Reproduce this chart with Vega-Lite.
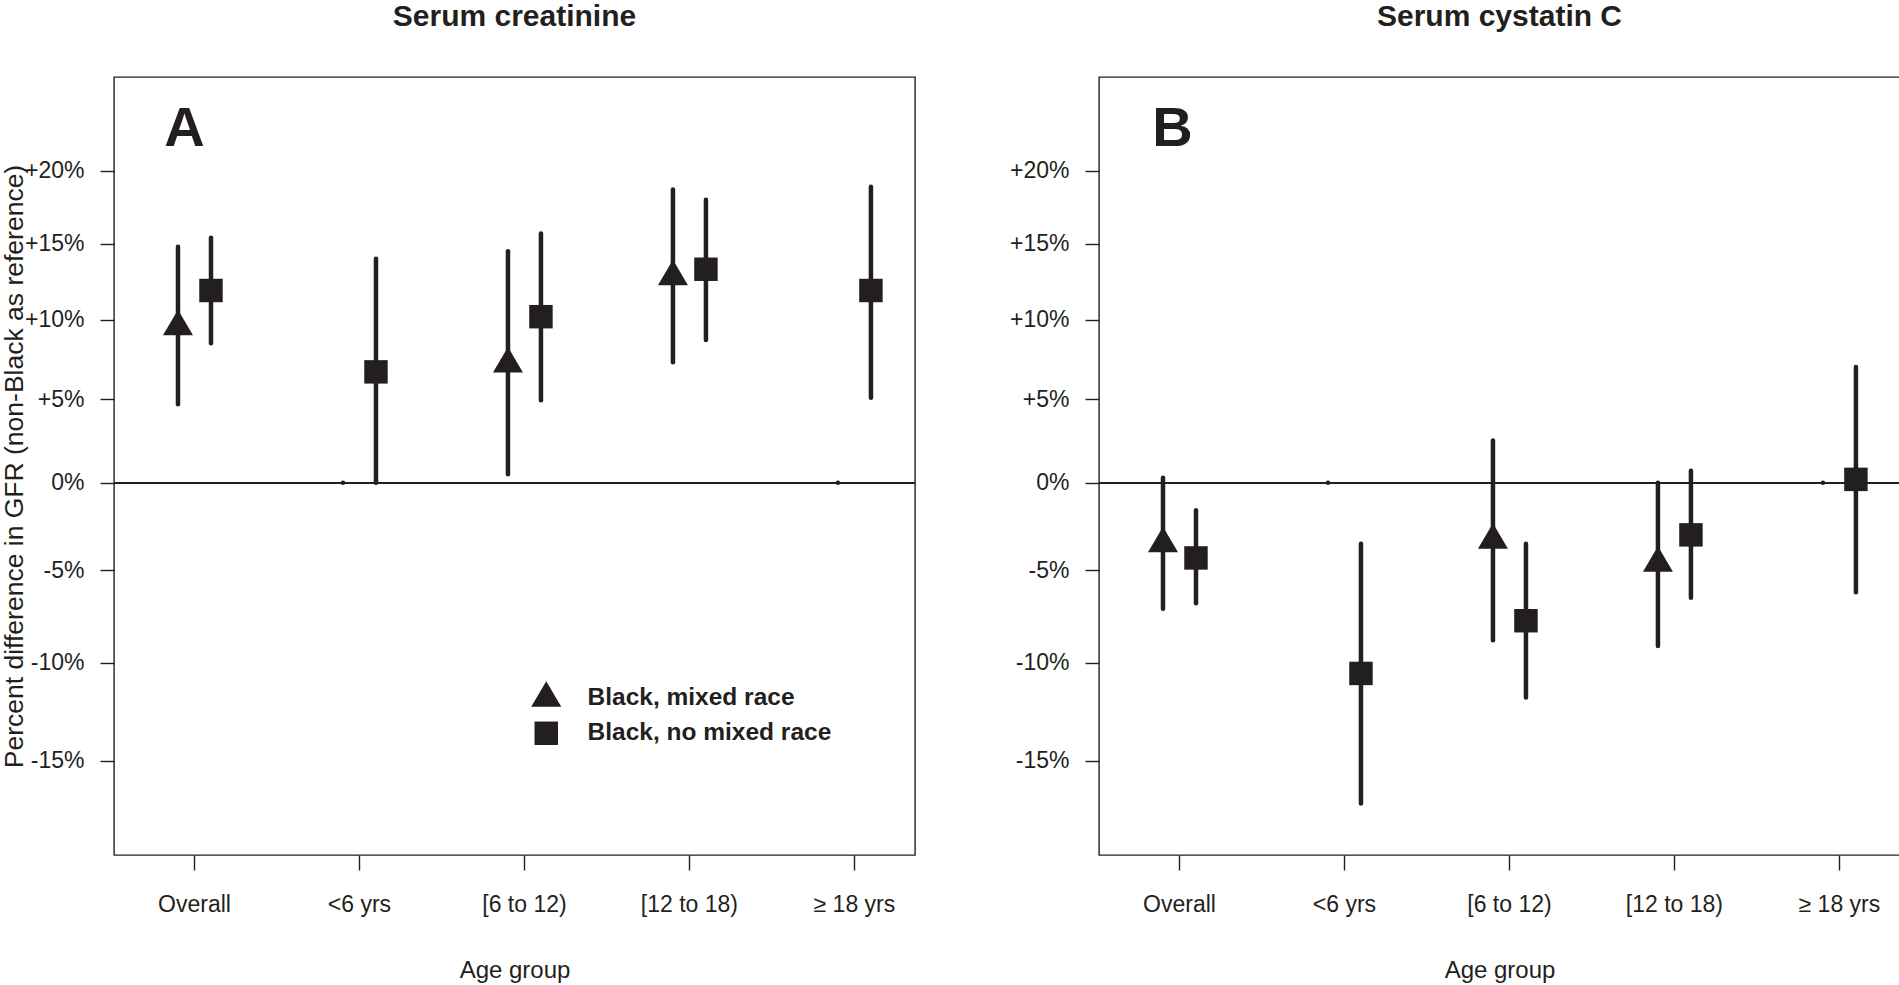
{
  "$schema": "https://vega.github.io/schema/vega-lite/v6.json",
  "padding": {"left": 0, "top": 1, "right": 0, "bottom": 0},
  "background": "white",
  "config": {
    "font": "Liberation Sans",
    "view": {"stroke": "#231f20", "strokeWidth": 1.4},
    "axis": {
      "labelFont": "Liberation Sans", "labelFontSize": 23, "labelColor": "#231f20",
      "tickColor": "#231f20", "tickWidth": 1.4, "domain": false, "grid": false,
      "titleFont": "Liberation Sans", "titleFontWeight": "normal", "titleColor": "#231f20"
    }
  },
  "datasets": {
    "A": [
      {"group": "Overall", "series": "Black, mixed race", "est": 1.0955, "lo": 1.047, "hi": 1.148},
      {"group": "Overall", "series": "Black, no mixed race", "est": 1.119, "lo": 1.085, "hi": 1.154},
      {"group": "<6 yrs", "series": "Black, mixed race", "est": null, "lo": 1.0, "hi": 1.0},
      {"group": "<6 yrs", "series": "Black, no mixed race", "est": 1.067, "lo": 1.0, "hi": 1.14},
      {"group": "[6 to 12)", "series": "Black, mixed race", "est": 1.072, "lo": 1.005, "hi": 1.145},
      {"group": "[6 to 12)", "series": "Black, no mixed race", "est": 1.102, "lo": 1.0495, "hi": 1.157},
      {"group": "[12 to 18)", "series": "Black, mixed race", "est": 1.128, "lo": 1.073, "hi": 1.187},
      {"group": "[12 to 18)", "series": "Black, no mixed race", "est": 1.133, "lo": 1.087, "hi": 1.18},
      {"group": "≥ 18 yrs", "series": "Black, mixed race", "est": null, "lo": 1.0, "hi": 1.0},
      {"group": "≥ 18 yrs", "series": "Black, no mixed race", "est": 1.119, "lo": 1.051, "hi": 1.189}
    ],
    "B": [
      {"group": "Overall", "series": "Black, mixed race", "est": 0.965, "lo": 0.929, "hi": 1.003},
      {"group": "Overall", "series": "Black, no mixed race", "est": 0.957, "lo": 0.932, "hi": 0.984},
      {"group": "<6 yrs", "series": "Black, mixed race", "est": null, "lo": 1.0, "hi": 1.0},
      {"group": "<6 yrs", "series": "Black, no mixed race", "est": 0.8945, "lo": 0.829, "hi": 0.965},
      {"group": "[6 to 12)", "series": "Black, mixed race", "est": 0.967, "lo": 0.912, "hi": 1.025},
      {"group": "[6 to 12)", "series": "Black, no mixed race", "est": 0.9225, "lo": 0.882, "hi": 0.965},
      {"group": "[12 to 18)", "series": "Black, mixed race", "est": 0.954, "lo": 0.909, "hi": 1.0},
      {"group": "[12 to 18)", "series": "Black, no mixed race", "est": 0.97, "lo": 0.935, "hi": 1.007},
      {"group": "≥ 18 yrs", "series": "Black, mixed race", "est": null, "lo": 1.0, "hi": 1.0},
      {"group": "≥ 18 yrs", "series": "Black, no mixed race", "est": 1.002, "lo": 0.938, "hi": 1.07}
    ],
    "labA": [{"group": "Overall", "y": 1.2176, "t": "A"}],
    "labB": [{"group": "Overall", "y": 1.2176, "t": "B"}]
  },
  "spacing": 91,
  "resolve": {"legend": {"shape": "independent"}},
  "hconcat": [
    {
      "width": 801, "height": 778,
      "title": {"text": "Serum creatinine", "fontSize": 30, "fontWeight": "bold", "anchor": "middle", "baseline": "alphabetic", "offset": 21, "color": "#231f20", "font": "Liberation Sans"},
      "layer": [
        {
          "data": {"name": "A"},
          "mark": {"type": "rule", "strokeWidth": 1.4, "color": "#231f20"},
          "encoding": {"y": {"datum": 1, "type": "quantitative", "scale": {"type": "log", "domain": [0.8044, 1.2678], "nice": false, "zero": false}}}
        },
        {
          "data": {"name": "A"},
          "mark": {"type": "rule", "strokeWidth": 4.5, "strokeCap": "round", "color": "#231f20"},
          "encoding": {
            "x": {"field": "group", "type": "nominal", "sort": ["Overall", "<6 yrs", "[6 to 12)", "[12 to 18)", "≥ 18 yrs"],
                  "scale": {"paddingInner": 0.5, "paddingOuter": 0.1775, "align": 0.67},
                  "axis": {"title": "Age group", "titleFontSize": 24, "labelAngle": 0, "tickSize": 15, "labelPadding": 23, "titlePadding": 42}},
            "xOffset": {"field": "series", "type": "nominal", "sort": ["Black, mixed race", "Black, no mixed race"], "scale": {"paddingInner": 0, "paddingOuter": 0.25}},
            "y": {"field": "lo", "type": "quantitative",
                  "scale": {"type": "log", "domain": [0.8044, 1.2678], "nice": false, "zero": false},
                  "axis": {"title": "Percent difference in GFR (non-Black as reference)", "titleFontSize": 26.5, "titlePadding": -4,
                           "values": [0.85, 0.9, 0.95, 1, 1.05, 1.1, 1.15, 1.2], "tickSize": 14, "labelPadding": 16,
                           "labelExpr": "datum.value == 1 ? '0%' : (datum.value > 1 ? '+' : '-') + format(abs(datum.value - 1) * 100, '.0f') + '%'"}},
            "y2": {"field": "hi"}
          }
        },
        {
          "data": {"name": "A"},
          "mark": {"type": "point", "filled": true, "opacity": 1, "size": 550, "color": "#231f20", "strokeWidth": 0},
          "encoding": {
            "x": {"field": "group", "type": "nominal", "sort": ["Overall", "<6 yrs", "[6 to 12)", "[12 to 18)", "≥ 18 yrs"]},
            "xOffset": {"field": "series", "type": "nominal", "sort": ["Black, mixed race", "Black, no mixed race"]},
            "y": {"field": "est", "type": "quantitative"},
            "shape": {"field": "series", "type": "nominal",
                      "scale": {"domain": ["Black, mixed race", "Black, no mixed race"], "range": ["M0,-1.45L1.28,0.725L-1.28,0.725Z", "square"]},
                      "legend": {"orient": "none", "legendX": 420, "legendY": 609, "title": null, "padding": 0,
                                 "labelFont": "Liberation Sans", "labelFontSize": 24.5, "labelFontWeight": "bold", "labelColor": "#231f20", "labelLimit": 0,
                                 "symbolSize": 550, "symbolFillColor": "#231f20", "symbolStrokeColor": "#231f20", "symbolStrokeWidth": 0,
                                 "rowPadding": 10, "labelOffset": 29}}
          }
        },
        {
          "data": {"name": "labA"},
          "mark": {"type": "text", "fontSize": 56, "fontWeight": "bold", "baseline": "alphabetic", "align": "center", "dx": -10, "color": "#231f20"},
          "encoding": {
            "x": {"field": "group", "type": "nominal", "sort": ["Overall", "<6 yrs", "[6 to 12)", "[12 to 18)", "≥ 18 yrs"]},
            "y": {"field": "y", "type": "quantitative"},
            "text": {"field": "t"}
          }
        }
      ]
    },
    {
      "width": 801, "height": 778,
      "title": {"text": "Serum cystatin C", "fontSize": 30, "fontWeight": "bold", "anchor": "middle", "baseline": "alphabetic", "offset": 21, "color": "#231f20", "font": "Liberation Sans"},
      "layer": [
        {
          "data": {"name": "B"},
          "mark": {"type": "rule", "strokeWidth": 1.4, "color": "#231f20"},
          "encoding": {"y": {"datum": 1, "type": "quantitative", "scale": {"type": "log", "domain": [0.8044, 1.2678], "nice": false, "zero": false}}}
        },
        {
          "data": {"name": "B"},
          "mark": {"type": "rule", "strokeWidth": 4.5, "strokeCap": "round", "color": "#231f20"},
          "encoding": {
            "x": {"field": "group", "type": "nominal", "sort": ["Overall", "<6 yrs", "[6 to 12)", "[12 to 18)", "≥ 18 yrs"],
                  "scale": {"paddingInner": 0.5, "paddingOuter": 0.1775, "align": 0.67},
                  "axis": {"title": "Age group", "titleFontSize": 24, "labelAngle": 0, "tickSize": 15, "labelPadding": 23, "titlePadding": 42}},
            "xOffset": {"field": "series", "type": "nominal", "sort": ["Black, mixed race", "Black, no mixed race"], "scale": {"paddingInner": 0, "paddingOuter": 0.25}},
            "y": {"field": "lo", "type": "quantitative",
                  "scale": {"type": "log", "domain": [0.8044, 1.2678], "nice": false, "zero": false},
                  "axis": {"title": null,
                           "values": [0.85, 0.9, 0.95, 1, 1.05, 1.1, 1.15, 1.2], "tickSize": 14, "labelPadding": 16,
                           "labelExpr": "datum.value == 1 ? '0%' : (datum.value > 1 ? '+' : '-') + format(abs(datum.value - 1) * 100, '.0f') + '%'"}},
            "y2": {"field": "hi"}
          }
        },
        {
          "data": {"name": "B"},
          "mark": {"type": "point", "filled": true, "opacity": 1, "size": 550, "color": "#231f20", "strokeWidth": 0},
          "encoding": {
            "x": {"field": "group", "type": "nominal", "sort": ["Overall", "<6 yrs", "[6 to 12)", "[12 to 18)", "≥ 18 yrs"]},
            "xOffset": {"field": "series", "type": "nominal", "sort": ["Black, mixed race", "Black, no mixed race"]},
            "y": {"field": "est", "type": "quantitative"},
            "shape": {"field": "series", "type": "nominal",
                      "scale": {"domain": ["Black, mixed race", "Black, no mixed race"], "range": ["M0,-1.45L1.28,0.725L-1.28,0.725Z", "square"]},
                      "legend": null}
          }
        },
        {
          "data": {"name": "labB"},
          "mark": {"type": "text", "fontSize": 56, "fontWeight": "bold", "baseline": "alphabetic", "align": "center", "dx": -7, "color": "#231f20"},
          "encoding": {
            "x": {"field": "group", "type": "nominal", "sort": ["Overall", "<6 yrs", "[6 to 12)", "[12 to 18)", "≥ 18 yrs"]},
            "y": {"field": "y", "type": "quantitative"},
            "text": {"field": "t"}
          }
        }
      ]
    }
  ]
}
